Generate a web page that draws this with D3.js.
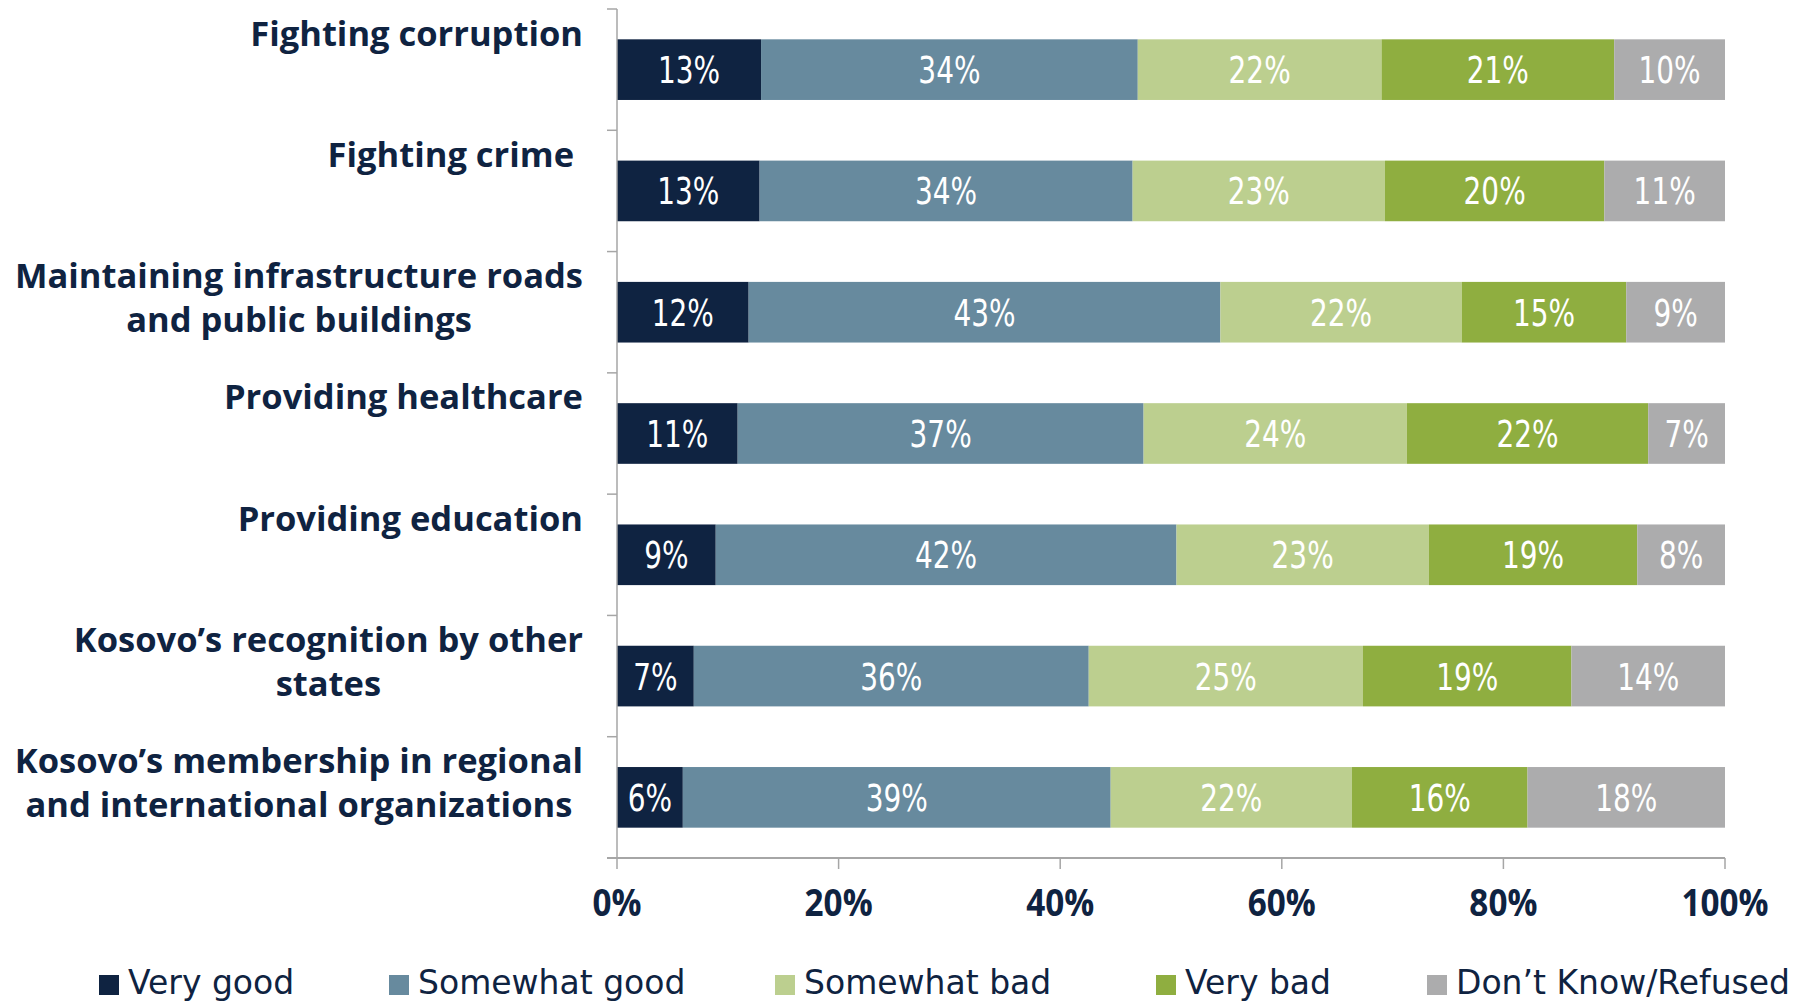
<!DOCTYPE html>
<html><head><meta charset="utf-8">
<script src="https://cdn.jsdelivr.net/npm/d3@7"></script>
<style>html,body{margin:0;padding:0;background:#fff;}svg{display:block;}</style>
</head><body><svg id="c" width="1816" height="1003"></svg>
<script>
const categories = [
  ["Fighting corruption"],
  ["Fighting crime\u00a0"],
  ["Maintaining infrastructure roads", "and public buildings"],
  ["Providing healthcare"],
  ["Providing education"],
  ["Kosovo\u2019s recognition by other", "states"],
  ["Kosovo\u2019s membership in regional", "and international organizations"]
];
const seriesNames = ["Very good", "Somewhat good", "Somewhat bad", "Very bad", "Don\u2019t Know/Refused"];
const veryGood     = [13, 13, 12, 11, 9, 7, 6];
const somewhatGood = [34, 34, 43, 37, 42, 36, 39];
const somewhatBad  = [22, 23, 22, 24, 23, 25, 22];
const veryBad      = [21, 20, 15, 22, 19, 19, 16];
const dontKnow     = [10, 11, 9, 7, 8, 14, 18];
const tickValues = [0, 0.2, 0.4, 0.6, 0.8, 1.0];
const tickLabels = ["0%", "20%", "40%", "60%", "80%", "100%"];
const colors = ["#0f2341", "#678a9e", "#bccf8f", "#8fae40", "#acacad"];
const textColor = "#0f2341";

const series = [veryGood, somewhatGood, somewhatBad, veryBad, dontKnow];
const rows = categories.map((c, i) => {
  const vals = series.map(s => s[i]);
  const total = d3.sum(vals);
  let acc = 0;
  return vals.map((v, k) => { const s0 = acc / total; acc += v; return {i, k, v, s0, s1: acc / total}; });
});

const svg = d3.select("#c");
const x = d3.scaleLinear().domain([0, 1]).range([617, 1725]);
const y = d3.scaleBand().domain(d3.range(categories.length)).range([9, 858]).paddingInner(0.5).paddingOuter(0.25);

// bars
const g = svg.append("g");
rows.forEach(r => {
  g.selectAll(null).data(r).enter().append("rect")
    .attr("x", d => x(d.s0)).attr("width", d => x(d.s1) - x(d.s0))
    .attr("y", d => y(d.i)).attr("height", y.bandwidth())
    .attr("fill", d => colors[d.k]);
  g.selectAll(null).data(r).enter().append("text")
    .attr("transform", d => `translate(${(x(d.s0) + x(d.s1)) / 2},${y(d.i) + y.bandwidth() / 2 + 13.5}) scale(0.84,1)`)
    .attr("text-anchor", "middle")
    .attr("fill", "#fff")
    .style("font-family", "'DejaVu Sans Condensed','DejaVu Sans',sans-serif")
    .style("font-size", "37px")
    .text(d => d.v + "%");
});

// left axis
const step = y.step();
svg.append("line").attr("x1", x(0)).attr("x2", x(0)).attr("y1", y.range()[0]).attr("y2", y.range()[1])
  .attr("stroke", "#a6a6a6").attr("stroke-width", 1.5);
const bounds = d3.range(categories.length + 1).map(k => y.range()[0] + k * step);
svg.selectAll(null).data(bounds).enter().append("line")
  .attr("x1", x(0) - 10).attr("x2", x(0)).attr("y1", d => d).attr("y2", d => d)
  .attr("stroke", "#a6a6a6").attr("stroke-width", 1.5);

// bottom axis
const yAxis0 = y.range()[1];
svg.append("line").attr("x1", x(0) - 10).attr("x2", x(1)).attr("y1", yAxis0).attr("y2", yAxis0)
  .attr("stroke", "#a6a6a6").attr("stroke-width", 2);
svg.selectAll(null).data(tickValues).enter().append("line")
  .attr("x1", d => x(d)).attr("x2", d => x(d)).attr("y1", yAxis0).attr("y2", yAxis0 + 11)
  .attr("stroke", "#a6a6a6").attr("stroke-width", 1.5);
svg.selectAll(null).data(tickValues).enter().append("text")
  .attr("transform", d => `translate(${x(d)},${yAxis0 + 58}) scale(0.9,1)`)
  .attr("text-anchor", "middle")
  .attr("fill", textColor)
  .style("font-family", "'Open Sans',sans-serif")
  .style("font-weight", "bold").style("font-size", "37px")
  .text((d, i) => tickLabels[i]);

// category labels
const labelRight = 583;
categories.forEach((lines, i) => {
  const top = y.range()[0] + i * step;
  const t = svg.append("text").attr("fill", textColor)
    .style("font-family", "'Open Sans',sans-serif").style("font-weight", "bold").style("font-size", "34.5px")
    .style("white-space", "pre");
  const spans = lines.map((l, j) => t.append("tspan").attr("y", top + 23 + j * 44).attr("dominant-baseline", "central").text(l));
  const widths = spans.map(s => s.node().getComputedTextLength());
  const maxW = d3.max(widths);
  if (lines.length === 1) {
    spans[0].attr("x", labelRight).attr("text-anchor", "end");
  } else {
    spans.forEach(s => s.attr("x", labelRight - maxW / 2).attr("text-anchor", "middle"));
  }
});

// legend
const legendX = [99, 389, 775, 1156, 1427];
const leg = svg.selectAll(null).data(seriesNames).enter().append("g")
  .attr("transform", (d, i) => `translate(${legendX[i]},975)`);
leg.append("rect").attr("width", 20).attr("height", 20).attr("fill", (d, i) => colors[i]);
leg.append("text").attr("x", 29).attr("y", 19)
  .attr("fill", textColor)
  .style("font-family", "'DejaVu Sans',sans-serif")
  .style("font-size", "33px")
  .text(d => d);
</script></body></html>
